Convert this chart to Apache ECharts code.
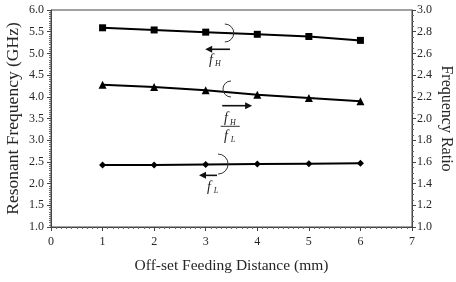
<!DOCTYPE html>
<html><head><meta charset="utf-8">
<script src="https://cdn.jsdelivr.net/npm/echarts@6/dist/echarts.min.js"></script>
<style>html,body{margin:0;padding:0;background:#fff}#c{width:456px;height:282px}</style>
</head><body><div id="c"></div>
<script>
const distances = [1, 2, 3, 4, 5, 6];
const fH = [5.59, 5.54, 5.49, 5.44, 5.39, 5.30];
const ratio = [2.31, 2.29, 2.26, 2.22, 2.19, 2.16];
const fL = [2.43, 2.43, 2.44, 2.45, 2.46, 2.47];
const xTicks = [0, 1, 2, 3, 4, 5, 6, 7];
const leftTicks = [1.0, 1.5, 2.0, 2.5, 3.0, 3.5, 4.0, 4.5, 5.0, 5.5, 6.0];
const rightTicks = [1.0, 1.2, 1.4, 1.6, 1.8, 2.0, 2.2, 2.4, 2.6, 2.8, 3.0];

const FONT = 'Liberation Serif';
const TXT = '#262626';
const chart = echarts.init(document.getElementById('c'), null, {renderer: 'canvas'});

function pairs(ys) { return distances.map((x, i) => [x, ys[i]]); }

const lineStyle = {color: '#000', width: 2};
function axisCommon(nameSize) {
  return {
    nameMoveOverlap: false,
    axisLine: {show: true, lineStyle: {color: '#444', width: 1}},
    axisTick: {show: true, inside: false, length: 4, lineStyle: {color: '#444'}},
    minorTick: {show: true, length: 2, lineStyle: {color: '#666'}},
    splitLine: {show: false},
    axisLabel: {color: TXT, fontFamily: FONT, fontSize: 12},
    nameTextStyle: {color: TXT, fontFamily: FONT, fontSize: nameSize}
  };
}

const xAx = Object.assign(axisCommon(15.5), {
  type: 'value', min: xTicks[0], max: xTicks[xTicks.length - 1], interval: 1,
  name: 'Off-set Feeding Distance (mm)', nameLocation: 'middle', nameGap: 31
});
xAx.minorTick.splitNumber = 10;
xAx.axisLabel.margin = 9;

const yL = Object.assign(axisCommon(17.5), {
  type: 'value', min: leftTicks[0], max: leftTicks[leftTicks.length - 1], interval: 0.5,
  name: 'Resonant Frequency (GHz)', nameLocation: 'middle', nameGap: 29, position: 'left'
});
yL.minorTick.splitNumber = 10;
yL.axisLabel.formatter = v => v.toFixed(1);
yL.axisLabel.margin = 7;

const yR = Object.assign(axisCommon(16), {
  type: 'value', min: rightTicks[0], max: rightTicks[rightTicks.length - 1], interval: 0.2,
  name: 'Frequency Ratio', nameLocation: 'middle', nameGap: 26, nameRotate: -90, position: 'right'
});
yR.minorTick.splitNumber = 4;
yR.axisLabel.formatter = v => v.toFixed(1);
yR.axisLabel.margin = 5;

chart.setOption({
  animation: false,
  grid: {left: 51, right: 44, top: 10, bottom: 55, show: true, borderColor: '#444', borderWidth: 1,
         containLabel: false, outerBoundsMode: 'none'},
  xAxis: xAx,
  yAxis: [yL, yR],
  series: [
    {type: 'line', yAxisIndex: 0, data: pairs(fH), symbol: 'rect', symbolSize: 7,
     lineStyle: lineStyle, itemStyle: {color: '#000'}},
    {type: 'line', yAxisIndex: 1, data: pairs(ratio), symbol: 'triangle', symbolSize: 8,
     lineStyle: lineStyle, itemStyle: {color: '#000'}},
    {type: 'line', yAxisIndex: 0, data: pairs(fL), symbol: 'diamond', symbolSize: 7,
     lineStyle: lineStyle, itemStyle: {color: '#000'}}
  ]
});

// Annotations (positions in left-axis data units)
function px(x, y) { return chart.convertToPixel({xAxisIndex: 0, yAxisIndex: 0}, [x, y]); }
const g = [];
function arc(x, y, r, side) {
  const p = px(x, y);
  const s = side === 'right' ? -Math.PI / 2 : Math.PI / 2;
  const e = side === 'right' ? Math.PI / 2 : 3 * Math.PI / 2;
  g.push({type: 'arc', shape: {cx: p[0], cy: p[1], r: r, startAngle: s, endAngle: e, clockwise: true},
    style: {stroke: '#333', fill: null, lineWidth: 1}, z: 100});
}
function arrow(x1, x2, y) {
  const a = px(x1, y), b = px(x2, y);
  const dir = b[0] > a[0] ? 1 : -1;
  g.push({type: 'line', shape: {x1: a[0], y1: a[1], x2: b[0] - dir * 5, y2: b[1]},
    style: {stroke: '#111', lineWidth: 1.6}, z: 100});
  g.push({type: 'polygon', shape: {points: [[b[0], b[1]], [b[0] - dir * 7, b[1] - 3.5], [b[0] - dir * 7, b[1] + 3.5]]},
    style: {fill: '#111'}, z: 100});
}
function fsub(x, y, sub) {
  const p = px(x, y);
  g.push({type: 'text', x: p[0] - 4, y: p[1], style: {text: 'f', font: 'italic 14px "Liberation Serif"', fill: '#222',
    textAlign: 'center', textVerticalAlign: 'middle'}, z: 100});
  g.push({type: 'text', x: p[0] + 3, y: p[1] + 4, style: {text: sub, font: 'italic 8px "Liberation Serif"', fill: '#222',
    textAlign: 'center', textVerticalAlign: 'middle'}, z: 100});
}
// f_H group
arc(3.37, 5.47, 9, 'right');
arrow(3.47, 2.99, 5.095);
fsub(3.18, 4.85, 'H');
// ratio group
arc(3.49, 4.18, 8, 'left');
arrow(3.32, 3.90, 3.795);
fsub(3.47, 3.50, 'H');
(function () {
  const a = px(3.29, 3.32), b = px(3.66, 3.32);
  g.push({type: 'line', shape: {x1: a[0], y1: a[1], x2: b[0], y2: b[1]}, style: {stroke: '#333', lineWidth: 1}, z: 100});
})();
fsub(3.47, 3.10, 'L');
// f_L group
arc(3.24, 2.45, 10, 'right');
arrow(3.22, 2.87, 2.19);
fsub(3.14, 1.92, 'L');

chart.setOption({graphic: g});
</script>
</body></html>
